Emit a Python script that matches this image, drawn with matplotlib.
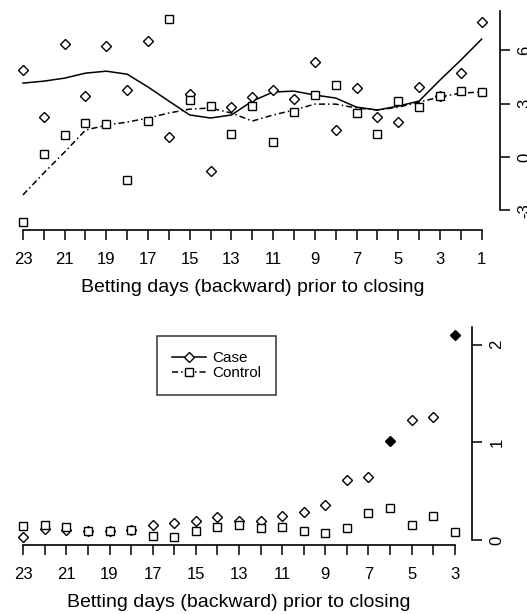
import matplotlib
matplotlib.use("Agg")
import matplotlib.pyplot as plt
from matplotlib.lines import Line2D

plt.rcParams['font.family'] = ['Liberation Sans', 'DejaVu Sans']

# ---------------- data ----------------
days_top = list(range(23, 0, -1))
case_top = [4.88, 2.24, 6.34, 3.42, 6.23, 3.76, 6.50, 1.12, 3.53, -0.79, 2.80, 3.37,
            3.76, 3.25, 5.33, 1.51, 3.87, 2.24, 1.96, 3.93, 3.42, 4.71, 7.57]
control_top = [-3.65, 0.17, 1.23, 1.91, 1.85, -1.29, 2.02, 7.74, 3.20, 2.86, 1.29, 2.86,
               0.84, 2.52, 3.48, 4.04, 2.47, 1.29, 3.14, 2.80, 3.42, 3.70, 3.65]
case_smooth = [4.15, 4.26, 4.43, 4.71, 4.82, 4.65, 3.93, 3.14, 2.36, 2.19, 2.36, 3.14,
               3.65, 3.70, 3.48, 3.31, 2.80, 2.64, 2.86, 3.14, 4.32, 5.44, 6.62]
control_smooth = [-2.13, -0.90, 0.28, 1.51, 1.79, 1.96, 2.19, 2.47, 2.69, 2.75, 2.47, 2.02,
                  2.36, 2.64, 2.97, 2.97, 2.75, 2.64, 2.80, 3.08, 3.37, 3.59, 3.65]
top_yticks = [-3, 0, 3, 6]

days_bot = list(range(23, 2, -1))
case_bot = [0.03, 0.11, 0.10, 0.09, 0.09, 0.10, 0.15, 0.18, 0.20, 0.24, 0.20, 0.20,
            0.25, 0.29, 0.36, 0.62, 0.65, 1.01, 1.23, 1.26, 2.10]
case_bot_filled = [False] * 17 + [True, False, False, True]
control_bot = [0.14, 0.15, 0.13, 0.09, 0.09, 0.10, 0.04, 0.03, 0.09, 0.13, 0.15, 0.12,
               0.13, 0.09, 0.07, 0.12, 0.28, 0.33, 0.15, 0.25, 0.08]
bot_yticks = [0, 1, 2]

xlabel = "Betting days (backward) prior to closing"
legend_labels = ["Case", "Control"]

# ---------------- figure ----------------
W, H = 527, 614
fig = plt.figure(figsize=(W / 100, H / 100), dpi=100)


def px_axes(x0, y0, x1, y1):
    return fig.add_axes([x0 / W, 1 - y1 / H, (x1 - x0) / W, (y1 - y0) / H])


ms_d = 5.0
ms_s = 5.6
dash = (0, (4, 2, 1, 2))


def style(ax, days, yticks, ytop, xlim):
    ax.set_xlim(*xlim)
    for s in ['top', 'left']:
        ax.spines[s].set_visible(False)
    ax.spines['bottom'].set_bounds(days[0], days[-1])
    ax.spines['right'].set_bounds(yticks[0], ytop)
    for s in ['bottom', 'right']:
        ax.spines[s].set_linewidth(1.2)
    ax.set_xticks(days)
    ax.set_xticklabels([str(d) if d % 2 == 1 else '' for d in days])
    ax.yaxis.tick_right()
    ax.set_yticks(yticks)
    ax.set_yticklabels([str(t) for t in yticks], rotation=90, va='center')
    ax.tick_params(axis='both', direction='out', length=7.5, width=1.1,
                   labelsize=12)
    ax.tick_params(axis='x', pad=8)
    ax.tick_params(axis='y', pad=5)
    ax.set_xlabel(xlabel, fontsize=14, labelpad=9)


# top panel
ax1 = px_axes(4.6, 11, 500, 230)
ax1.set_ylim(-4.1, 8.2)
ax1.plot(days_top, case_smooth, color='black', lw=1.1)
ax1.plot(days_top, control_smooth, color='black', lw=1.1, linestyle=dash)
ax1.plot(days_top, case_top, linestyle='none', marker='D', ms=ms_d,
         mfc='white', mec='black', mew=1.0)
ax1.plot(days_top, control_top, linestyle='none', marker='s', ms=ms_s,
         mfc='white', mec='black', mew=1.0)
style(ax1, days_top, top_yticks, 8.2, (23.88, 0.12))

# bottom panel
ax2 = px_axes(6, 327, 472, 545)
ax2.set_ylim(-0.05, 2.18)
for d, v, f in zip(days_bot, case_bot, case_bot_filled):
    ax2.plot([d], [v], linestyle='none', marker='D', ms=ms_d,
             mfc='black' if f else 'white', mec='black', mew=1.0)
ax2.plot(days_bot, control_bot, linestyle='none', marker='s', ms=ms_s,
         mfc='white', mec='black', mew=1.0)
style(ax2, days_bot, bot_yticks, 2.18, (23.8, 2.2))

handles = [
    Line2D([], [], color='black', lw=1.1, marker='D', ms=ms_d,
           mfc='white', mec='black'),
    Line2D([], [], color='black', lw=1.1, linestyle=dash, marker='s', ms=ms_s,
           mfc='white', mec='black'),
]
leg = fig.legend(handles, legend_labels, loc='upper left',
                 bbox_to_anchor=(157 / W, 1 - 336 / H), fontsize=11,
                 frameon=True, fancybox=False, edgecolor='black',
                 handlelength=2.2, handletextpad=0.4, borderpad=1.0,
                 labelspacing=0.05, borderaxespad=0)
leg.get_frame().set_linewidth(1.1)

fig.savefig("out.png", dpi=100)
